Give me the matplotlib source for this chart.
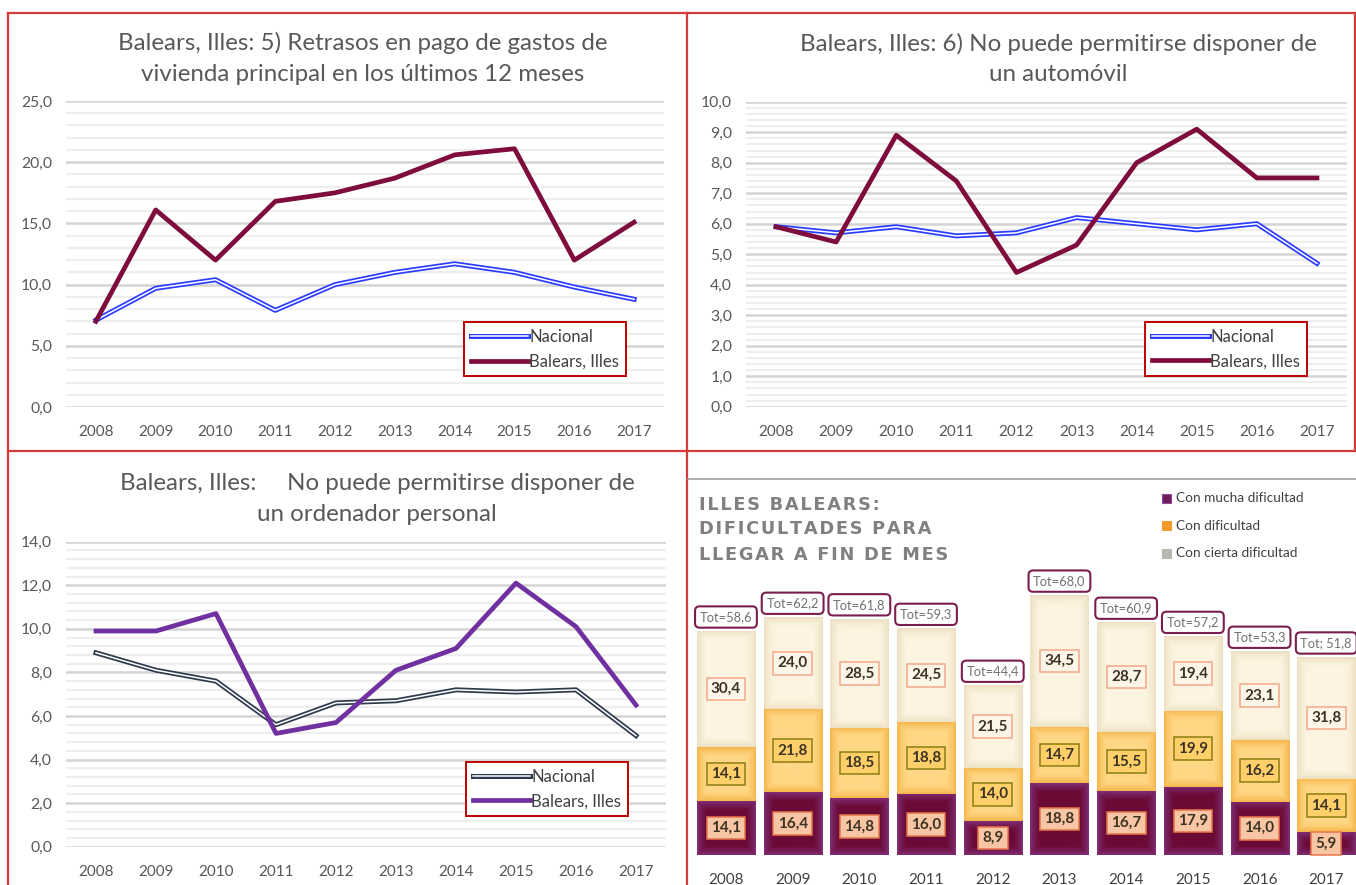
import numpy as np
import matplotlib
matplotlib.use("Agg")
import matplotlib.pyplot as plt
import matplotlib.patheffects as pe
from matplotlib.lines import Line2D
from matplotlib.patches import Rectangle
from matplotlib.ticker import MultipleLocator, FuncFormatter

# ---------------- data ----------------
years = ["2008", "2009", "2010", "2011", "2012", "2013", "2014", "2015", "2016", "2017"]
series_names = ["Nacional", "Balears, Illes"]

p1_title = "Balears, Illes: 5) Retrasos en pago de gastos de\nvivienda principal en los últimos 12 meses"
p1_nacional = [7.1, 9.7, 10.4, 7.9, 10.0, 11.0, 11.7, 11.0, 9.8, 8.8]
p1_balears = [7.0, 16.1, 12.0, 16.8, 17.5, 18.7, 20.6, 21.1, 12.0, 15.1]

p2_title = "Balears, Illes: 6) No puede permitirse disponer de\nun automóvil"
p2_nacional = [5.9, 5.7, 5.9, 5.6, 5.7, 6.2, 6.0, 5.8, 6.0, 4.7]
p2_balears = [5.9, 5.4, 8.9, 7.4, 4.4, 5.3, 8.0, 9.1, 7.5, 7.5]

p3_title = "Balears, Illes:     No puede permitirse disponer de\nun ordenador personal"
p3_nacional = [8.9, 8.1, 7.6, 5.6, 6.6, 6.7, 7.2, 7.1, 7.2, 5.1]
p3_balears = [9.9, 9.9, 10.7, 5.2, 5.7, 8.1, 9.1, 12.1, 10.1, 6.5]

bar_title = "ILLES BALEARS:\nDIFICULTADES PARA\nLLEGAR A FIN DE MES"
bar_legend = ["Con mucha dificultad", "Con dificultad", "Con cierta dificultad"]
bar_mucha = [14.1, 16.4, 14.8, 16.0, 8.9, 18.8, 16.7, 17.9, 14.0, 5.9]
bar_dificultad = [14.1, 21.8, 18.5, 18.8, 14.0, 14.7, 15.5, 19.9, 16.2, 14.1]
bar_cierta = [30.4, 24.0, 28.5, 24.5, 21.5, 34.5, 28.7, 19.4, 23.1, 31.8]
bar_tot_labels = ["Tot=58,6", "Tot=62,2", "Tot=61,8", "Tot=59,3", "Tot=44,4",
                  "Tot=68,0", "Tot=60,9", "Tot=57,2", "Tot=53,3", "Tot; 51,8"]

# ---------------- figure ----------------
W, H = 1356, 885
plt.rcParams["font.family"] = ["Lato", "DejaVu Sans"]
fig = plt.figure(figsize=(W / 100, H / 100), dpi=100)
fig.patch.set_facecolor("white")


def fx(x):
    return x / W


def fy(y):
    return 1 - y / H


def rect_px(x0, y0, x1, y1):
    return [fx(x0), fy(y1), (x1 - x0) / W, (y1 - y0) / H]


def comma(v, p):
    return f"{v:.1f}".replace(".", ",")


TICK_C = "#595959"


def line_panel(rect, nac, bal, ymax, major, title, tx, ty, nac_edge, bal_color, anchor):
    ax = fig.add_axes(rect)
    x = np.arange(len(years))
    ax.set_xlim(-0.5, len(years) - 0.5)
    ax.set_ylim(0, ymax)
    ax.yaxis.set_major_locator(MultipleLocator(major))
    ax.yaxis.set_minor_locator(MultipleLocator(major / 5))
    ax.yaxis.set_major_formatter(FuncFormatter(comma))
    ax.grid(which="major", axis="y", color="#D4D4D4", lw=1.8)
    ax.grid(which="minor", axis="y", color="#EEEEEE", lw=1.6)
    ax.set_axisbelow(True)
    for s in ax.spines.values():
        s.set_visible(False)
    ax.tick_params(which="both", length=0)
    ax.tick_params(axis="y", pad=10, labelsize=11.3, labelcolor=TICK_C)
    ax.tick_params(axis="x", pad=13, labelsize=11, labelcolor=TICK_C)
    ax.set_xticks(x)
    ax.set_xticklabels(years)
    ax.plot(x, nac, color="white", lw=1.1, label=series_names[0],
            path_effects=[pe.Stroke(linewidth=3.6, foreground=nac_edge), pe.Normal()],
            zorder=3)
    ax.plot(x, bal, color=bal_color, lw=3.4, label=series_names[1], zorder=4)
    leg = ax.legend(loc="lower right", bbox_to_anchor=anchor, frameon=True, fancybox=False,
                    edgecolor="#C00000", framealpha=1, fontsize=12, handlelength=3.4,
                    handletextpad=0.1, borderpad=0.42, labelspacing=0.5,
                    borderaxespad=0)
    leg.get_frame().set_linewidth(1.4)
    for t in leg.get_texts():
        t.set_color("#404040")
    fig.text(fx(tx), fy(ty), title, ha="center", va="center", fontsize=17.4,
             color="#595959", linespacing=1.55)
    return ax


line_panel(rect_px(66, 101, 664, 407), p1_nacional, p1_balears, 25, 5, p1_title,
           363, 58.5, "#2A3CFF", "#7E0C3C", (0.937, 0.10))
line_panel(rect_px(746, 101.7, 1347, 406.7), p2_nacional, p2_balears, 10, 1, p2_title,
           1058, 59, "#2A3CFF", "#7E0C3C", (0.934, 0.10))
line_panel(rect_px(66, 541.7, 666, 846.7), p3_nacional, p3_balears, 14, 2, p3_title,
           377, 499, "#2E3A4E", "#7030A0", (0.937, 0.10))

# ---------------- bar chart ----------------
SCALE = 3.82  # px per unit
bax_top = 470
bax = fig.add_axes(rect_px(692.6, bax_top, 692.6 + 667, 855))
bax.set_xlim(-0.5, len(years) - 0.5)
bax.set_ylim(0, (855 - bax_top) / SCALE)
for s in bax.spines.values():
    s.set_visible(False)
bax.tick_params(length=0)
bax.set_yticks([])
xb = np.arange(len(years))
bax.set_xticks(xb)
bax.set_xticklabels(years, fontsize=11, color="#404040")
bax.tick_params(axis="x", pad=13)

seg_style = [
    (bar_mucha, "#6B0B36", "#82307A", "#F8C6A4", "#E8744A"),
    (bar_dificultad, "#FFD785", "#F5B447", "#FFCF6A", "#8C7D10"),
    (bar_cierta, "#FCF4E0", "#ECDFC0", "#FDF6E8", "#F2A98A"),
]
fig.canvas.draw()
renderer = fig.canvas.get_renderer()
bottom = np.zeros(len(years))
for vals, center, side, lface, ledge in seg_style:
    vals = np.array(vals)
    bars = bax.bar(xb, vals, bottom=bottom, width=0.87, color=center, lw=0, zorder=2)
    c0 = np.array(matplotlib.colors.to_rgb(center))
    c1 = np.array(matplotlib.colors.to_rgb(side))
    for p in bars:
        bb = p.get_window_extent(renderer)
        w, h = max(int(bb.width), 2), max(int(bb.height), 2)
        yy, xx = np.mgrid[0:h, 0:w] + 0.5
        d = np.minimum(np.minimum(xx, w - xx), np.minimum(yy, h - yy))
        t = np.clip(d / 9.0, 0, 1) ** 0.8
        img = c1 + (c0 - c1) * t[..., None]
        x0, y0 = p.get_xy()
        im = bax.imshow(img, extent=(x0, x0 + p.get_width(), y0, y0 + p.get_height()),
                        aspect="auto", origin="lower", interpolation="bilinear", zorder=2.5)
        im.set_clip_path(p)
    for i, v in enumerate(vals):
        bax.text(xb[i], bottom[i] + v / 2, f"{v:.1f}".replace(".", ","), ha="center",
                 va="center", fontsize=11, fontweight="bold", color="#3D3322", zorder=5,
                 bbox=dict(boxstyle="square,pad=0.28", fc=lface, ec=ledge, lw=1.1))
    bottom = bottom + vals
bax.set_xlim(-0.5, len(years) - 0.5)
bax.set_ylim(0, (855 - bax_top) / SCALE)
for i, lab in enumerate(bar_tot_labels):
    bax.text(xb[i], bottom[i] + 3.7, lab, ha="center", va="center", fontsize=9.3,
             color="#707070", zorder=5,
             bbox=dict(boxstyle="round,pad=0.36,rounding_size=0.35", fc="white",
                       ec="#7A1E4E", lw=1.5))

# bar chart title with tracking
def tracked(s):
    return "\u200a".join(list(s))

fig.text(fx(699), fy(529.5), "\n".join(tracked(l) for l in bar_title.split("\n")),
         ha="left", va="center", fontsize=12.8, fontweight="bold", color="#808080",
         family=["DejaVu Sans"], linespacing=1.5)

# bar chart legend
leg_colors = [("#6E1B5C", "#8C4C9C"), ("#F39A2C", "#F39A2C"), ("#B8B8B0", "#B8B8B0")]
for k, (lab, (fc, ec)) in enumerate(zip(bar_legend, leg_colors)):
    yc = 498 + k * 27.5
    fig.patches.append(Rectangle((fx(1162), fy(yc + 4.5)), 9 / W, 9 / H, fc=fc, ec=ec,
                                 lw=0.8, transform=fig.transFigure, figure=fig))
    fig.text(fx(1176), fy(yc), lab, ha="left", va="center", fontsize=9.8, color="#404040")

# ---------------- panel borders ----------------
RED = "#D63A3A"


def hline(x0, x1, y, c=RED, lw=1.6):
    fig.add_artist(Line2D([fx(x0), fx(x1)], [fy(y), fy(y)], color=c, lw=lw,
                          transform=fig.transFigure))


def vline(x, y0, y1, c=RED, lw=1.6):
    fig.add_artist(Line2D([fx(x), fx(x)], [fy(y0), fy(y1)], color=c, lw=lw,
                          transform=fig.transFigure))


hline(8, 1355, 13)
hline(8, 1356, 451)
vline(8, 13, 885)
vline(687, 13, 885)
vline(1355, 13, 451)
hline(688, 1356, 479, c="#A0A0A0", lw=1.2)

fig.savefig("out.png", dpi=100, facecolor="white")
